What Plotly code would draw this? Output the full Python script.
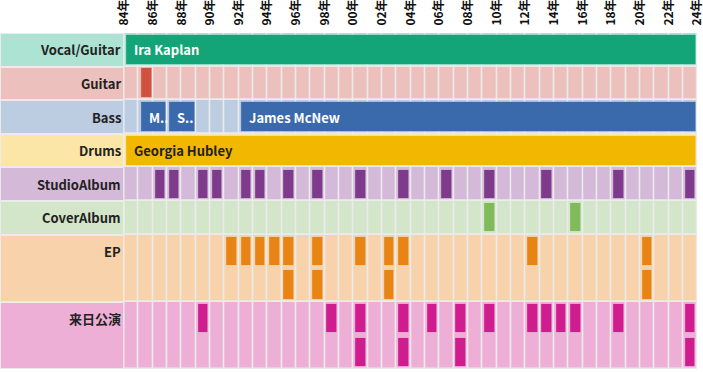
import plotly.graph_objects as go

# ---------------- data ----------------
row_names = ["Vocal/Guitar", "Guitar", "Bass", "Drums", "StudioAlbum", "CoverAlbum", "EP", "来日公演"]
row_spans = [1, 1, 1, 1, 1, 1, 2, 2]
row_bg = ["#ADE3D2", "#ECC1BD", "#BCCCE1", "#FBE6A7", "#D4B9D8", "#D4E6C9", "#F7D2AB", "#EEAFD7"]
row_fg = ["#13A577", "#CF5240", "#3A69AC", "#F2B700", "#7E3A8B", "#81BA5A", "#E88413", "#CF1C8F"]

year_start = 1984
year_end = 2024
tick_years = list(range(1984, 2025, 2))
tick_labels = [f"{y % 100:02d}年" for y in tick_years]

# members: (row, name, start, end)
member_rows = ["Vocal/Guitar", "Guitar", "Bass", "Bass", "Bass", "Drums"]
member_names = ["Ira Kaplan", "Dave Schramm", "Mike Lewis", "Stephan Wichnewski", "James McNew", "Georgia Hubley"]
member_start = [1984, 1985, 1985, 1987, 1992, 1984]
member_end = [2024, 1986, 1987, 1989, 2024, 2024]
member_text_color = ["white", "white", "white", "white", "white", "#222222"]

studio_albums = [1986, 1987, 1989, 1990, 1992, 1993, 1995, 1997, 2000, 2003, 2006, 2009, 2013, 2018, 2023]
cover_albums = [2009, 2015]
eps = [1991, 1992, 1993, 1994, 1995, 1995, 1997, 1997, 2000, 2002, 2002, 2003, 2012, 2020, 2020]
japan_tours = [1989, 1998, 2000, 2000, 2003, 2003, 2005, 2007, 2007, 2009, 2012, 2013, 2014, 2015, 2018, 2023, 2023]

events = {"StudioAlbum": studio_albums, "CoverAlbum": cover_albums, "EP": eps, "来日公演": japan_tours}

# ---------------- layout helpers ----------------
offsets = {}
acc = 0
for n, s in zip(row_names, row_spans):
    offsets[n] = acc
    acc += s
total_rows = acc
ridx = {n: i for i, n in enumerate(row_names)}

W, H = 703, 372
plot_l, plot_r = 124.3, 697.5
plot_t, plot_b = 33.0, 369.0
SEP = "#EBEBEB"
FONT = "Noto Sans CJK JP"
LABEL_SIZE = 13

fig = go.Figure()

# label column backgrounds
fig.add_trace(go.Bar(
    orientation="h", xaxis="x2", yaxis="y",
    base=[0] * len(row_names), x=[1] * len(row_names),
    y=[offsets[n] + row_spans[i] / 2 for i, n in enumerate(row_names)],
    width=row_spans,
    marker=dict(color=row_bg, line=dict(color=SEP, width=2)),
    hoverinfo="skip", showlegend=False,
))

# background cells
cb, cy, cw, cc = [], [], [], []
for i, n in enumerate(row_names):
    for yr in range(year_start, year_end):
        cb.append(yr)
        cy.append(offsets[n] + row_spans[i] / 2)
        cw.append(row_spans[i])
        cc.append(row_bg[i])
fig.add_trace(go.Bar(
    orientation="h", base=cb, x=[1] * len(cb), y=cy, width=cw,
    marker=dict(color=cc, line=dict(color=SEP, width=1.5)),
    hoverinfo="skip", showlegend=False,
))

# member bars
mb, mx, my, mc = [], [], [], []
for r, nm, s, e in zip(member_rows, member_names, member_start, member_end):
    mb.append(s + 0.17)
    mx.append(e - s - 0.22)
    my.append(offsets[r] + 0.5)
    mc.append(row_fg[ridx[r]])
fig.add_trace(go.Bar(
    orientation="h", base=mb, x=mx, y=my, width=0.89,
    marker=dict(color=mc, line=dict(color="rgba(255,255,255,0.35)", width=1)),
    hoverinfo="skip", showlegend=False,
))

# event bars
eb, ex, ey, ec = [], [], [], []
for n, yrs in events.items():
    count = {}
    for yr in yrs:
        k = count.get(yr, 0)
        count[yr] = k + 1
        eb.append(yr + 0.13)
        ex.append(0.74)
        ey.append(offsets[n] + k + 0.5)
        ec.append(row_fg[ridx[n]])
fig.add_trace(go.Bar(
    orientation="h", base=eb, x=ex, y=ey, width=0.87,
    marker=dict(color=ec, line=dict(color="rgba(255,255,255,0.4)", width=1)),
    hoverinfo="skip", showlegend=False,
))

annotations = []
# row labels
for i, n in enumerate(row_names):
    annotations.append(dict(
        x=1, y=offsets[n] + 0.5, xref="x2", yref="y", text=f"<b>{n}</b>",
        xanchor="right", yanchor="middle", xshift=-1, showarrow=False,
        font=dict(family=FONT, size=LABEL_SIZE, color="#222222"),
    ))
# member names
for r, nm, s, e, tc in zip(member_rows, member_names, member_start, member_end, member_text_color):
    span = e - s
    if span < 2:
        continue
    label = nm if span >= 4 else nm[0] + ".."
    annotations.append(dict(
        x=s, y=offsets[r] + 0.5, xref="x", yref="y", text=f"<b>{label}</b>",
        xanchor="left", yanchor="middle", xshift=8, showarrow=False,
        font=dict(family=FONT, size=LABEL_SIZE, color=tc),
    ))

fig.update_layout(
    width=W, height=H,
    margin=dict(l=0, r=0, t=0, b=0),
    paper_bgcolor="white", plot_bgcolor="white",
    barmode="overlay", bargap=0,
    showlegend=False,
    annotations=annotations,
    font=dict(family=FONT),
    xaxis=dict(
        domain=[plot_l / W, plot_r / W], range=[year_start, year_end],
        side="top", anchor="y",
        tickmode="array", tickvals=tick_years, ticktext=tick_labels,
        tickangle=-90, tickfont=dict(family=FONT, size=12, color="#111111", weight="bold"),
        ticks="outside", ticklen=4, tickcolor="rgba(0,0,0,0)",
        ticklabeloverflow="allow",
        showgrid=False, zeroline=False, showline=False, automargin=False, fixedrange=True,
    ),
    xaxis2=dict(
        domain=[0, 123.5 / W], range=[0, 1], anchor="y", visible=False, fixedrange=True,
    ),
    yaxis=dict(
        domain=[(H - plot_b) / H, (H - plot_t) / H], range=[total_rows, 0],
        visible=False, fixedrange=True, automargin=False,
    ),
)

fig.write_html(
    "out.html",
    config={"displayModeBar": False},
    post_script="document.body.style.margin='0';document.body.style.overflow='hidden';",
)
